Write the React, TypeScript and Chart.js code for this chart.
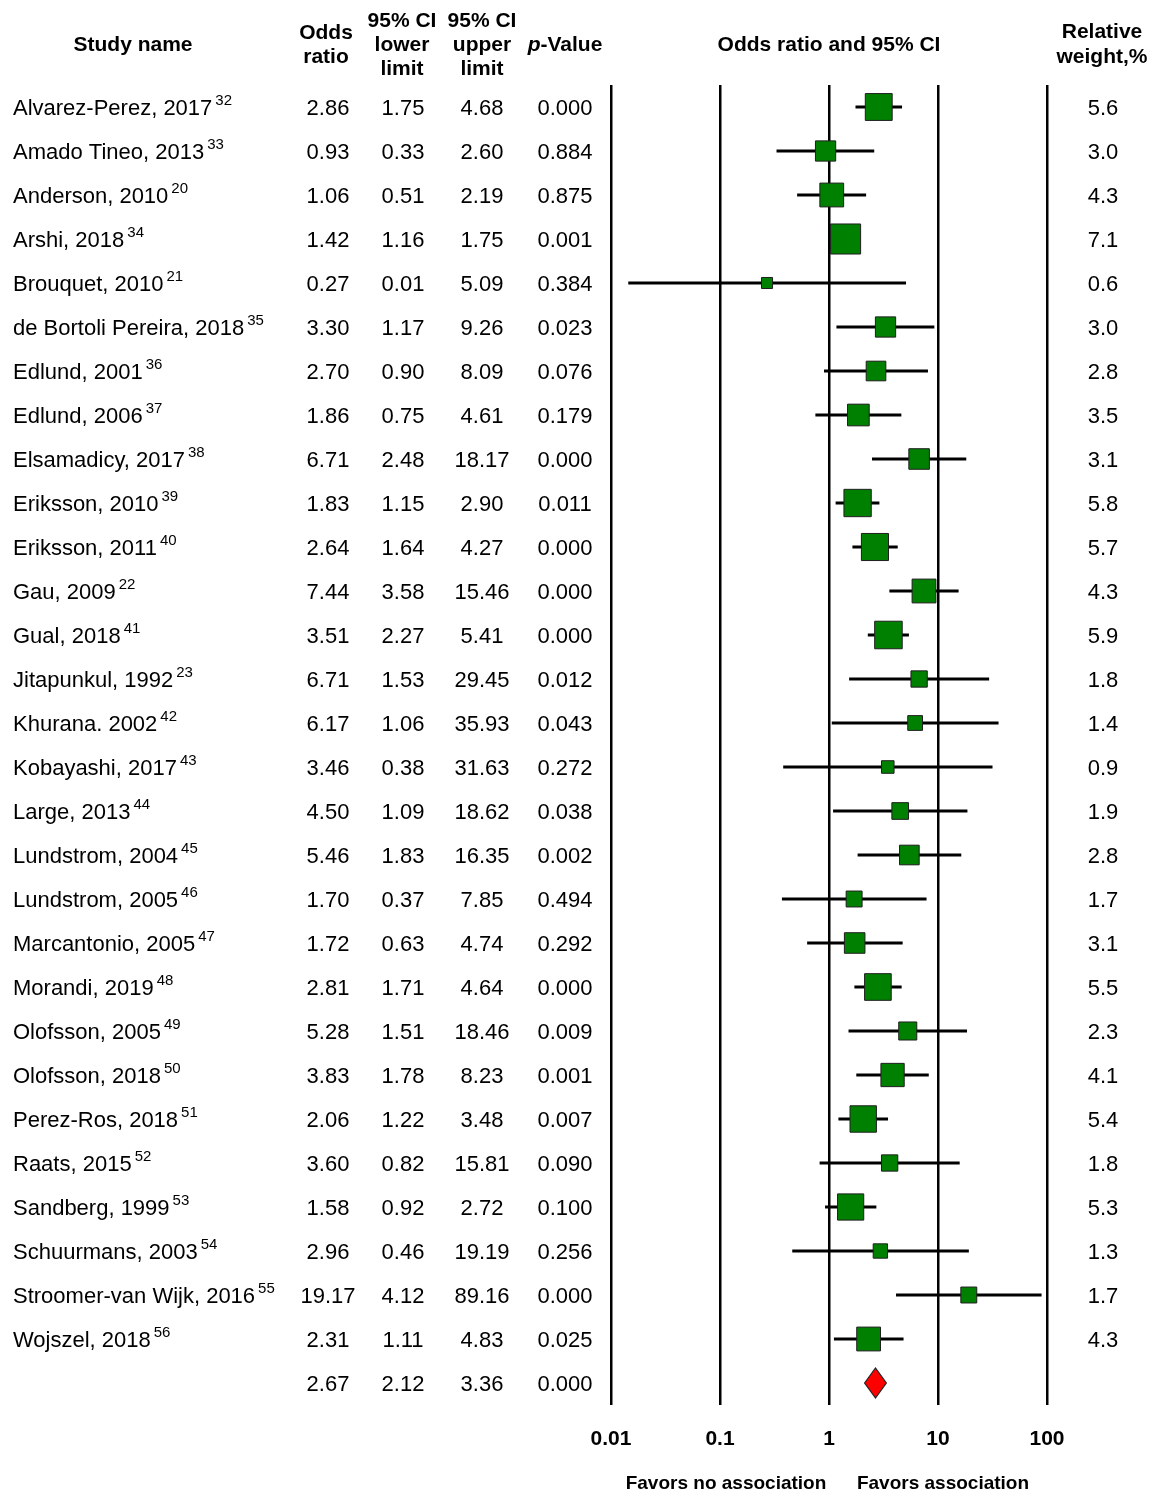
import React, { useEffect, useRef } from 'react';
import { Chart, registerables } from 'chart.js';

Chart.register(...registerables);

// ---------- data ----------
const studyNames = [
  'Alvarez-Perez, 2017', 'Amado Tineo, 2013', 'Anderson, 2010', 'Arshi, 2018', 'Brouquet, 2010',
  'de Bortoli Pereira, 2018', 'Edlund, 2001', 'Edlund, 2006', 'Elsamadicy, 2017', 'Eriksson, 2010',
  'Eriksson, 2011', 'Gau, 2009', 'Gual, 2018', 'Jitapunkul, 1992', 'Khurana. 2002',
  'Kobayashi, 2017', 'Large, 2013', 'Lundstrom, 2004', 'Lundstrom, 2005', 'Marcantonio, 2005',
  'Morandi, 2019', 'Olofsson, 2005', 'Olofsson, 2018', 'Perez-Ros, 2018', 'Raats, 2015',
  'Sandberg, 1999', 'Schuurmans, 2003', 'Stroomer-van Wijk, 2016', 'Wojszel, 2018',
];
const refNumbers = [
  '32', '33', '20', '34', '21', '35', '36', '37', '38', '39', '40', '22', '41', '23', '42',
  '43', '44', '45', '46', '47', '48', '49', '50', '51', '52', '53', '54', '55', '56',
];
const oddsRatio = [
  2.86, 0.93, 1.06, 1.42, 0.27, 3.30, 2.70, 1.86, 6.71, 1.83, 2.64, 7.44, 3.51, 6.71, 6.17,
  3.46, 4.50, 5.46, 1.70, 1.72, 2.81, 5.28, 3.83, 2.06, 3.60, 1.58, 2.96, 19.17, 2.31,
];
const lowerLimit = [
  1.75, 0.33, 0.51, 1.16, 0.0144, 1.17, 0.90, 0.75, 2.48, 1.15, 1.64, 3.58, 2.27, 1.53, 1.06,
  0.38, 1.09, 1.83, 0.37, 0.63, 1.71, 1.51, 1.78, 1.22, 0.82, 0.92, 0.46, 4.12, 1.11,
];
const upperLimit = [
  4.68, 2.60, 2.19, 1.75, 5.09, 9.26, 8.09, 4.61, 18.17, 2.90, 4.27, 15.46, 5.41, 29.45, 35.93,
  31.63, 18.62, 16.35, 7.85, 4.74, 4.64, 18.46, 8.23, 3.48, 15.81, 2.72, 19.19, 89.16, 4.83,
];
const pValues = [
  0.000, 0.884, 0.875, 0.001, 0.384, 0.023, 0.076, 0.179, 0.000, 0.011, 0.000, 0.000, 0.000, 0.012, 0.043,
  0.272, 0.038, 0.002, 0.494, 0.292, 0.000, 0.009, 0.001, 0.007, 0.090, 0.100, 0.256, 0.000, 0.025,
];
const relativeWeight = [
  5.6, 3.0, 4.3, 7.1, 0.6, 3.0, 2.8, 3.5, 3.1, 5.8, 5.7, 4.3, 5.9, 1.8, 1.4,
  0.9, 1.9, 2.8, 1.7, 3.1, 5.5, 2.3, 4.1, 5.4, 1.8, 5.3, 1.3, 1.7, 4.3,
];
const summaryOR = 2.67;
const summaryLower = 2.12;
const summaryUpper = 3.36;
const summaryP = 0.0;

const xTickValues = [0.01, 0.1, 1, 10, 100];
const xTickLabels = ['0.01', '0.1', '1', '10', '100'];

// ---------- helpers ----------
const FONT = '"Liberation Sans", Arial, Helvetica, sans-serif';
const N = studyNames.length;
const squareRadius = (w: number) => Math.sqrt(120 * w + 50) / (2 * Math.SQRT1_2);

const forestPlugin = {
  id: 'forestTable',
  afterDatasetsDraw(chart: any) {
    const { ctx, scales } = chart;
    const xs = scales.x;
    const ys = scales.y;
    const y = ys.getPixelForValue(N);
    const xl = xs.getPixelForValue(summaryLower);
    const xm = xs.getPixelForValue(summaryOR);
    const xr = xs.getPixelForValue(summaryUpper);
    const h = 15;
    ctx.save();
    ctx.beginPath();
    ctx.moveTo(xl, y);
    ctx.lineTo(xm, y - h);
    ctx.lineTo(xr, y);
    ctx.lineTo(xm, y + h);
    ctx.closePath();
    ctx.fillStyle = '#ff0000';
    ctx.fill();
    ctx.lineWidth = 1.2;
    ctx.strokeStyle = '#222';
    ctx.stroke();
    ctx.restore();
  },
  afterDraw(chart: any) {
    const { ctx, scales } = chart;
    const ys = scales.y;
    const xs = scales.x;
    ctx.save();
    ctx.fillStyle = '#000';
    ctx.textBaseline = 'middle';

    // header
    const hb = `bold 21px ${FONT}`;
    ctx.font = hb;
    ctx.textAlign = 'center';
    const hdr = (t: string, x: number, y: number) => ctx.fillText(t, x, y);
    hdr('Study name', 133, 45);
    hdr('Odds', 326, 33);
    hdr('ratio', 326, 57);
    hdr('95% CI', 402, 21);
    hdr('lower', 402, 45);
    hdr('limit', 402, 69);
    hdr('95% CI', 482, 21);
    hdr('upper', 482, 45);
    hdr('limit', 482, 69);
    hdr('Odds ratio and 95% CI', (xs.left + xs.right) / 2, 45);
    hdr('Relative', 1102, 32);
    hdr('weight,%', 1102, 57);
    // p-Value with italic p
    ctx.textAlign = 'left';
    const pItal = `italic bold 21px ${FONT}`;
    ctx.font = pItal;
    const wp = ctx.measureText('p').width;
    ctx.font = hb;
    const wv = ctx.measureText('-Value').width;
    const px0 = 565 - (wp + wv) / 2;
    ctx.font = pItal;
    ctx.fillText('p', px0, 45);
    ctx.font = hb;
    ctx.fillText('-Value', px0 + wp, 45);

    // rows
    const body = `22px ${FONT}`;
    const sup = `15px ${FONT}`;
    for (let i = 0; i <= N; i++) {
      const y = ys.getPixelForValue(i) + 2;
      const isSum = i === N;
      ctx.font = body;
      ctx.textBaseline = 'middle';
      if (!isSum) {
        ctx.textAlign = 'left';
        ctx.fillText(studyNames[i], 13, y);
        const w = ctx.measureText(studyNames[i]).width;
        ctx.font = sup;
        ctx.textBaseline = 'alphabetic';
        ctx.fillText(refNumbers[i], 13 + w + 3, y - 4);
        ctx.font = body;
        ctx.textBaseline = 'middle';
      }
      ctx.textAlign = 'center';
      const orv = isSum ? summaryOR : oddsRatio[i];
      const lo = isSum ? summaryLower : lowerLimit[i];
      const hi = isSum ? summaryUpper : upperLimit[i];
      const p = isSum ? summaryP : pValues[i];
      ctx.fillText(orv.toFixed(2), 328, y);
      ctx.fillText(lo.toFixed(2), 403, y);
      ctx.fillText(hi.toFixed(2), 482, y);
      ctx.fillText(p.toFixed(3), 565, y);
      if (!isSum) ctx.fillText(relativeWeight[i].toFixed(1), 1103, y);
    }

    // favors labels
    ctx.font = `bold 19px ${FONT}`;
    ctx.textAlign = 'center';
    ctx.fillText('Favors no association', 726, 1484);
    ctx.fillText('Favors association', 943, 1484);
    ctx.restore();
  },
};

export default function App() {
  const canvasRef = useRef<HTMLCanvasElement | null>(null);

  useEffect(() => {
    if (!canvasRef.current) return;
    const whiskerData: any[] = [];
    for (let i = 0; i < N; i++) {
      whiskerData.push({ x: lowerLimit[i], y: i });
      whiskerData.push({ x: upperLimit[i], y: i });
      whiskerData.push({ x: NaN, y: NaN });
    }
    const squareData = oddsRatio.map((v, i) => ({ x: v, y: i }));

    const chart = new Chart(canvasRef.current, {
      type: 'scatter',
      data: {
        datasets: [
          {
            label: 'Odds ratio',
            data: squareData,
            order: 0,
            pointStyle: 'rect',
            pointRadius: relativeWeight.map(squareRadius),
            backgroundColor: '#008000',
            borderColor: '#1e1e1e',
            borderWidth: 1,
          } as any,
          {
            label: '95% CI',
            data: whiskerData,
            order: 1,
            showLine: true,
            spanGaps: false,
            pointRadius: 0,
            borderColor: '#000',
            borderWidth: 3,
            borderCapStyle: 'butt',
          } as any,
        ],
      },
      options: {
        animation: false,
        responsive: false,
        devicePixelRatio: 1,
        events: [],
        layout: { padding: { left: 611, right: 106, top: 85, bottom: 0 } },
        plugins: { legend: { display: false }, tooltip: { enabled: false }, title: { display: false } },
        scales: {
          x: {
            type: 'logarithmic',
            position: 'bottom',
            min: 0.01,
            max: 100,
            afterBuildTicks: (scale: any) => {
              scale.ticks = xTickValues.map((v) => ({ value: v }));
            },
            afterFit: (scale: any) => {
              scale.height = 87;
            },
            grid: { color: '#000', lineWidth: 2.5, drawTicks: false },
            border: { display: false },
            ticks: {
              autoSkip: false,
              maxRotation: 0,
              padding: 22,
              color: '#000',
              font: { family: FONT, size: 21, weight: 'bold' },
              callback: (_v: any, idx: number) => xTickLabels[idx],
            },
          },
          y: {
            type: 'linear',
            min: -0.5,
            max: N + 0.5,
            reverse: true,
            display: false,
          },
        },
      } as any,
      plugins: [forestPlugin],
    });
    return () => chart.destroy();
  }, []);

  return (
    <div style={{ position: 'absolute', left: 0, top: 0, width: 1153, height: 1492, background: '#fff' }}>
      <canvas ref={canvasRef} width={1153} height={1492} style={{ display: 'block', width: 1153, height: 1492 }} />
    </div>
  );
}
